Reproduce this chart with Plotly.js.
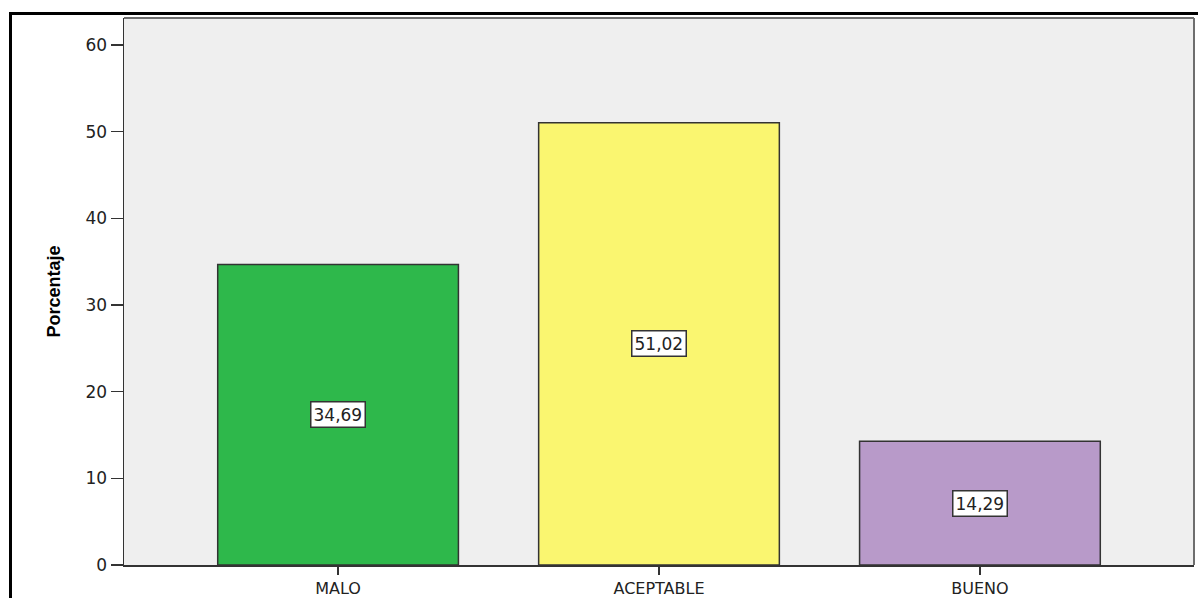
<!DOCTYPE html>
<html>
<head>
<meta charset="utf-8">
<script src="https://cdn.plot.ly/plotly-3.0.1.min.js"></script>
<style>
  html, body { margin: 0; padding: 0; background: #ffffff; }
  #chart { position: absolute; left: 0; top: 0; width: 1198px; height: 598px; }
  #frame {
    position: absolute; left: 9px; top: 12px; width: 1200px; height: 600px;
    border-left: 3px solid #000; border-top: 3px solid #000;
    pointer-events: none; box-sizing: border-box;
  }
</style>
</head>
<body>
<div id="chart"></div>
<div id="frame"></div>
<script>
// Calificación por categoría (porcentaje)
const categorias = ['MALO', 'ACEPTABLE', 'BUENO'];
const porcentajes = [34.69, 51.02, 14.29];
const colores = ['#2eb84b', '#faf670', '#b89ac9'];
const yTicks = [0, 10, 20, 30, 40, 50, 60];

const fmt = v => v.toFixed(2).replace('.', ',');

const trace = {
  type: 'bar',
  x: categorias,
  y: porcentajes,
  width: 0.75,
  marker: { color: colores, line: { color: '#333333', width: 1.5 } },
  hoverinfo: 'x+y'
};

const etiquetas = categorias.map((c, i) => ({
  x: c,
  y: porcentajes[i] / 2,
  xref: 'x', yref: 'y',
  text: fmt(porcentajes[i]),
  showarrow: false,
  bgcolor: '#ffffff',
  bordercolor: '#333333',
  borderwidth: 1.5,
  borderpad: 2,
  font: { family: 'DejaVu Sans, Arial, sans-serif', size: 17, color: '#222222' }
}));

const layout = {
  width: 1198,
  height: 598,
  margin: { l: 124, r: 4, t: 18, b: 33 },
  paper_bgcolor: '#ffffff',
  plot_bgcolor: '#efefef',
  showlegend: false,
  bargap: 0,
  xaxis: {
    type: 'category',
    range: [-0.667, 2.667],
    showgrid: false,
    zeroline: false,
    showline: true,
    linecolor: '#333333',
    linewidth: 1.5,
    ticks: 'outside',
    ticklen: 8,
    tickwidth: 1.5,
    tickcolor: '#333333',
    tickfont: { family: 'DejaVu Sans, Arial, sans-serif', size: 16, color: '#222222' }
  },
  yaxis: {
    range: [0, 63.12],
    tickvals: yTicks,
    ticktext: yTicks.map(String),
    showgrid: false,
    zeroline: false,
    showline: true,
    linecolor: '#333333',
    linewidth: 1.5,
    ticks: 'outside',
    ticklen: 12,
    tickwidth: 1.5,
    tickcolor: '#333333',
    tickfont: { family: 'DejaVu Sans, Arial, sans-serif', size: 17, color: '#222222' },
    title: {
      text: 'Porcentaje',
      standoff: 20,
      font: { family: 'Liberation Sans, Arial, sans-serif', size: 18, color: '#000000', weight: 'bold' }
    }
  },
  shapes: [
    { type: 'line', xref: 'paper', yref: 'paper', x0: 0, x1: 1, y0: 1, y1: 1,
      line: { color: '#6e6e6e', width: 2 } },
    { type: 'line', xref: 'paper', yref: 'paper', x0: 1, x1: 1, y0: 0, y1: 1,
      line: { color: '#6e6e6e', width: 2 } }
  ],
  annotations: etiquetas
};

Plotly.newPlot('chart', [trace], layout, { staticPlot: true, displayModeBar: false });
</script>
</body>
</html>
